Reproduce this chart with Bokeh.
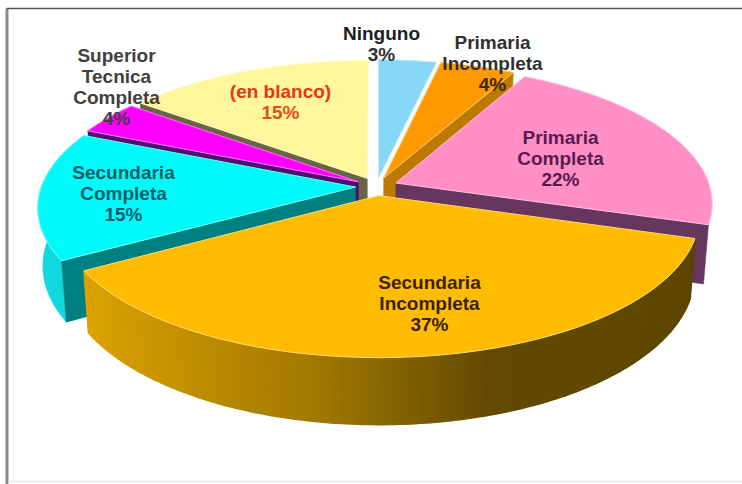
import math
from bokeh.plotting import figure
from bokeh.models import Range1d
from bokeh.core.properties import value
from bokeh.embed import file_html
from bokeh.resources import INLINE

categories = ["Ninguno", "Primaria Incompleta", "Primaria Completa", "Secundaria Incompleta",
              "Secundaria Completa", "Superior Tecnica Completa", "(en blanco)"]
values = [3.4, 4.4, 22.0, 36.9, 14.9, 3.9, 14.6]
percent_labels = ["3%", "4%", "22%", "37%", "15%", "4%", "15%"]
label_lines = [["Ninguno"], ["Primaria", "Incompleta"], ["Primaria", "Completa"],
               ["Secundaria", "Incompleta"], ["Secundaria", "Completa"],
               ["Superior", "Tecnica", "Completa"], ["(en blanco)"]]

# styles / layout
top_colors = ["#87D7F7", "#FF9900", "#FF8FC5", "#FFBC00", "#00FAFA", "#FF00FF", "#FFF799"]
wall_colors = ["#5F97AD", "#BD7A00", "#66365E", "#FFBC00", "#007F80", "#4B1070", "#6B6347"]
outer_colors = ["#5F97AD", "#BD7A00", "#66365E", "#FFBC00", "#10D8DC", "#B000B0", "#B5AD6B"]
text_colors = ["#1E1E1E", "#303030", "#5A1A50", "#3A2200", "#005C66", "#404040", "#E8341C"]
pct_colors = ["#303030", "#3A2A00", "#5A1A50", "#3A2200", "#005C66", "#404040", "#E0501C"]
label_x = [381, 492, 560, 429, 123, 116, 280]
label_y0 = [33, 42, 137, 282, 172, 55, 91]
LINE_H = 21
FONT = "19px"

CX, CY, A, B, K, EXPL, DEPTH, SHRINK = 376, 186, 314, 136.5, 0.14, 0.067, 57, 0.985


def project(u, v, lower=False):
    w = 1 + K * v
    x = A * u / w
    y = B * v / w
    if lower:
        return CX + x * SHRINK, CY - y + DEPTH / w
    return CX + x, CY - y


total = sum(values)
edges = [0]
for val in values:
    edges.append(edges[-1] + val / total * 360)


def ring(t0, t1, mid, n=60):
    du, dv = EXPL * math.sin(math.radians(mid)), EXPL * math.cos(math.radians(mid))
    return [(du + math.sin(math.radians(t0 + (t1 - t0) * i / n)),
             dv + math.cos(math.radians(t0 + (t1 - t0) * i / n))) for i in range(n + 1)], (du, dv)


p = figure(width=742, height=484, output_backend="svg", toolbar_location=None,
           x_range=Range1d(0, 742), y_range=Range1d(484, 0),
           min_border=0, outline_line_color=None)
p.axis.visible = False
p.grid.visible = False
p.background_fill_color = "#FFFFFF"

# picture frame
p.line([6.5, 6.5], [8, 484], line_color="#8A8A8A", line_width=3)
p.line([6, 742], [8, 8], line_color="#555555", line_width=1.5)
p.line([8, 742], [481, 481], line_color="#EEEEEE", line_width=2)


def mix(c1, c2, f):
    a = [int(c1[i:i + 2], 16) for i in (1, 3, 5)]
    b = [int(c2[i:i + 2], 16) for i in (1, 3, 5)]
    return "#%02X%02X%02X" % tuple(round(x + (y - x) * f) for x, y in zip(a, b))


def slice_draw(i, wall_edge=None, outer=None):
    t0, t1 = edges[i], edges[i + 1]
    mid = (t0 + t1) / 2
    pts, apex = ring(t0, t1, mid)
    if outer:
        o0, o1 = outer
        seg, _ = ring(o0, o1, mid, 20)
        up = [project(*q) for q in seg]
        lo = [project(*q, lower=True) for q in seg]
        p.patch([q[0] for q in up + lo[::-1]], [q[1] for q in up + lo[::-1]],
                fill_color=outer_colors[i], line_color=outer_colors[i], line_width=0.5)
    if wall_edge is not None:
        e = (apex[0] + math.sin(math.radians(wall_edge)), apex[1] + math.cos(math.radians(wall_edge)))
        poly = [project(*apex), project(*e), project(*e, lower=True), project(*apex, lower=True)]
        p.patch([q[0] for q in poly], [q[1] for q in poly],
                fill_color=wall_colors[i], line_color=wall_colors[i], line_width=0.5)
    face = [project(*apex)] + [project(*q) for q in pts]
    p.patch([q[0] for q in face], [q[1] for q in face], fill_color=top_colors[i],
            line_color=mix(top_colors[i], "#FFFFFF", 0.45), line_width=1)


# back to front
slice_draw(6, wall_edge=edges[6])
slice_draw(0)
slice_draw(1, wall_edge=edges[2])
slice_draw(5, wall_edge=edges[5])
slice_draw(4, wall_edge=edges[4], outer=(edges[4], 272))
slice_draw(2, wall_edge=edges[3])

# main slice: gradient outer wall
t0, t1 = edges[3], edges[4]
mid = (t0 + t1) / 2
stops = [(0.0, "#5C4600"), (0.42, "#624A00"), (0.62, "#A07800"), (0.82, "#C69300"), (1.0, "#DCA300")]


def ramp(f):
    for (a, ca), (b, cb) in zip(stops, stops[1:]):
        if f <= b:
            return mix(ca, cb, (f - a) / (b - a))
    return stops[-1][1]


N = 160
seg, apex = ring(t0, t1, mid, N)
xs, ys, cols = [], [], []
for j in range(N):
    q = [project(*seg[j]), project(*seg[j + 1]),
         project(*seg[j + 1], lower=True), project(*seg[j], lower=True)]
    xs.append([c[0] for c in q])
    ys.append([c[1] for c in q])
    cols.append(ramp(j / (N - 1)))
p.patches(xs, ys, fill_color=cols, line_color=cols, line_width=1.5)
slice_draw(3)

# labels
for i in range(len(values)):
    lines = label_lines[i] + [percent_labels[i]]
    for j, txt in enumerate(lines):
        col = pct_colors[i] if j == len(lines) - 1 else text_colors[i]
        p.text([label_x[i]], [label_y0[i] + j * LINE_H], text=[txt], text_color=col,
               text_font=value("Liberation Sans"), text_font_style="bold",
               text_font_size=FONT, text_align="center", text_baseline="middle")

open("out.html", "w").write(file_html(p, INLINE))
